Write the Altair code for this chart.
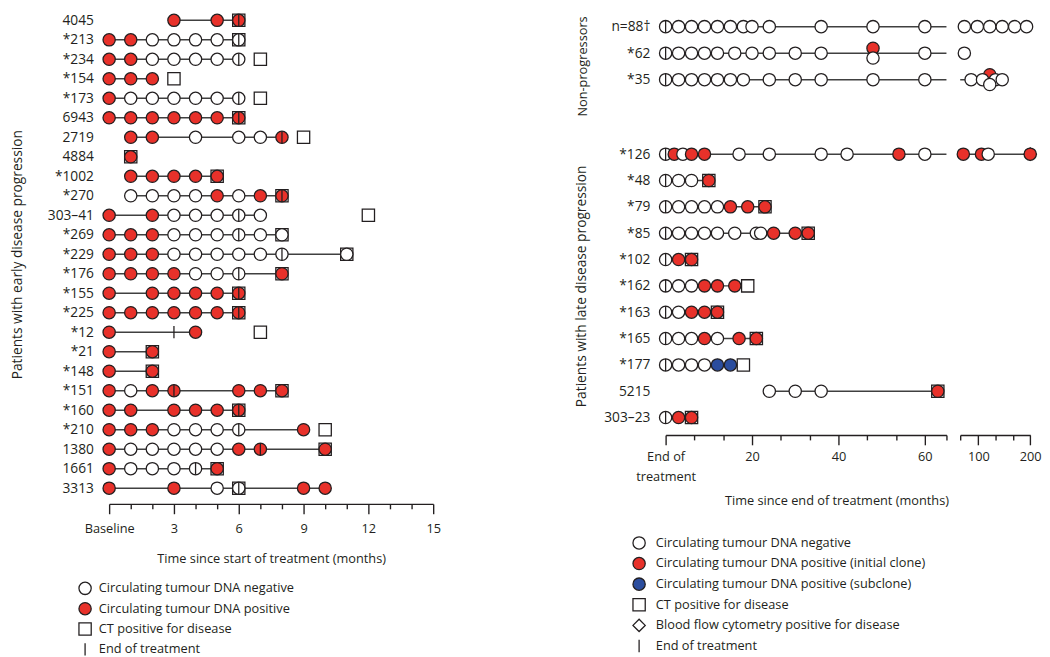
import altair as alt
import pandas as pd

FONT = "Open Sans"
INK = "#231f20"
LINE = "#404040"
RED = "#e8312a"
BLUE = "#2b4d9e"

# ---------------- Left panel: months since start of treatment ----------------
LEFT_PATIENTS = ["4045", "*213", "*234", "*154", "*173", "6943", "2719", "4884", "*1002", "*270",
                 "303\u201341", "*269", "*229", "*176", "*155", "*225", "*12", "*21", "*148", "*151",
                 "*160", "*210", "1380", "1661", "3313"]
LEFT_NEG = [[], [2, 3, 4, 5, 6], [2, 3, 4, 5, 6], [], [1, 2, 3, 4, 5, 6], [], [4, 6, 7], [], [], [1, 2, 3, 4, 6],
            [3, 4, 5, 6, 7], [3, 4, 5, 6, 7, 8], [3, 4, 5, 6, 7, 8, 11], [4, 5, 6], [], [], [], [], [], [1],
            [], [3, 4, 5, 6], [1, 2, 3, 4, 5], [1, 2, 3, 4], [5, 6]]
LEFT_POS = [[3, 5, 6], [0, 1], [0, 1], [0, 1, 2], [0], [0, 1, 2, 3, 4, 5, 6], [1, 2, 8], [1], [1, 2, 3, 4, 5], [5, 7, 8],
            [0, 2], [0, 1, 2], [0, 1, 2], [0, 1, 2, 3, 8], [0, 2, 3, 4, 5, 6], [0, 1, 2, 3, 4, 5, 6], [0, 4], [0, 2], [0, 2],
            [0, 2, 3, 6, 7, 8], [0, 1, 3, 4, 5, 6], [0, 1, 2, 9], [0, 6, 7, 10], [0, 5], [0, 3, 9, 10]]
LEFT_CT = [6, 6, 7, 3, 7, 6, 9, 1, 5, 8, 12, 8, 11, 8, 6, 6, 7, 2, 2, 8, 6, 10, 10, 5, 6]
LEFT_EOT = [6, 6, 6, None, 6, 6, 8, None, None, 8, 6, 6, 8, 6, 6, 6, 3, None, None, 3, 6, 6, 7, 4, 6]

# ---------------- Right panel: months since end of treatment ----------------
NP_PATIENTS = ["n=88\u2020", "*62", "*35"]
LATE_PATIENTS = ["*126", "*48", "*79", "*85", "*102", "*162", "*163", "*165", "*177", "5215", "303\u201323"]
RIGHT_PATIENTS = NP_PATIENTS + LATE_PATIENTS
RIGHT_NEG = [[0, 3, 6, 9, 12, 15, 18, 20, 24, 36, 48, 60, 73, 98, 122, 146, 170, 193],
             [0, 3, 6, 9, 12, 16, 20, 24, 30, 36, 60, 73],
             [0, 3, 6, 9, 12, 15, 18, 24, 30, 36, 48, 60, 86, 108, 133, 146],
             [0, 4, 17, 24, 36, 42, 60, 119],
             [0, 3, 6], [0, 3, 6, 9, 12], [0, 3, 6, 9, 12, 16, 21, 22], [0], [0, 3, 6], [0, 3],
             [0, 3, 6, 12], [0, 3, 6, 9], [24, 30, 36], [0]]
RIGHT_POS = [[], [], [], [2, 6, 9, 54, 71, 106, 200], [10], [15, 19, 23], [25, 30, 33], [3, 6], [9, 12, 16],
             [6, 9, 12], [9, 17, 21], [], [63], [3, 6]]
RIGHT_SUB = [[], [], [], [], [], [], [], [], [], [], [], [12, 15], [], []]
RIGHT_POS_UP = [[], [48], [122], [], [], [], [], [], [], [], [], [], [], []]
RIGHT_NEG_DOWN = [[], [48], [122], [], [], [], [], [], [], [], [], [], [], []]
RIGHT_CT = [None, None, None, None, 10, 23, 33, 6, 19, 12, 21, 18, 63, 6]
RIGHT_BFC = [None, None, None, 200, None, None, None, None, None, None, None, None, None, None]
RIGHT_EOT = [0, 0, 0, 0, 0, 0, 0, 0, 0, 0, 0, 0, None, 0]
BREAK = 65

KIND_FILL = {"neg": "white", "pos": RED, "sub": BLUE, "ct": "white", "bfc": "white", "eot": "transparent"}
KIND_SHAPE = {"neg": "circle", "pos": "circle", "sub": "circle", "ct": "square", "bfc": "diamond",
              "eot": "M0,-1L0,1"}
KIND_SIZE = {"neg": 156, "pos": 156, "sub": 156, "ct": 190, "bfc": 289, "eot": 289}
LEFT_KINDS = ["neg", "pos", "ct", "eot"]
LEFT_LABELS = ["Circulating tumour DNA negative", "Circulating tumour DNA positive",
               "CT positive for disease", "End of treatment"]
RIGHT_KINDS = ["neg", "pos", "sub", "ct", "bfc", "eot"]
RIGHT_LABELS = ["Circulating tumour DNA negative", "Circulating tumour DNA positive (initial clone)",
                "Circulating tumour DNA positive (subclone)", "CT positive for disease",
                "Blood flow cytometry positive for disease", "End of treatment"]


def build_points(patients, neg, pos, ct, eot, sub=None, bfc=None, up=None, down=None):
    n = len(patients)
    sub = sub or [[] for _ in range(n)]
    bfc = bfc or [None] * n
    up = up or [[] for _ in range(n)]
    down = down or [[] for _ in range(n)]
    rows = []
    for i, p in enumerate(patients):
        if ct[i] is not None:
            rows.append((p, ct[i], "ct", 0))
        if bfc[i] is not None:
            rows.append((p, bfc[i], "bfc", 0))
    for i, p in enumerate(patients):
        circ = [(t, "neg") for t in neg[i]] + [(t, "pos") for t in pos[i]] + [(t, "sub") for t in sub[i]]
        for t, k in sorted(circ):
            rows.append((p, t, k, 0))
        for t in up[i]:
            rows.append((p, t, "pos", -1))
        for t in down[i]:
            rows.append((p, t, "neg", 1))
    for i, p in enumerate(patients):
        if eot[i] is not None:
            rows.append((p, eot[i], "eot", 0))
    return pd.DataFrame(rows, columns=["patient", "t", "kind", "lift"])


def build_lines(df, cut=None):
    circ = df[df.kind.isin(["neg", "pos", "sub"])]
    rows = []
    for p, g in circ.groupby("patient", sort=False):
        if cut is None:
            rows.append((p, 1, g.t.min(), g.t.max()))
        else:
            s1, s2 = g[g.t <= cut], g[g.t > cut]
            if len(s1):
                rows.append((p, 1, s1.t.min(), cut if len(s2) else s1.t.max()))
            if len(s2):
                rows.append((p, 2, cut, s2.t.max()))
    return pd.DataFrame(rows, columns=["patient", "seg", "start", "end"])


left_pts = build_points(LEFT_PATIENTS, LEFT_NEG, LEFT_POS, LEFT_CT, LEFT_EOT)
left_lines = build_lines(left_pts)
right_pts = build_points(RIGHT_PATIENTS, RIGHT_NEG, RIGHT_POS, RIGHT_CT, RIGHT_EOT,
                         sub=RIGHT_SUB, bfc=RIGHT_BFC, up=RIGHT_POS_UP, down=RIGHT_NEG_DOWN)
right_pts["seg"] = (right_pts.t > BREAK).map({False: 1, True: 2})
right_lines = build_lines(right_pts, cut=BREAK)


def label_expr(kinds, labels):
    expr = "''"
    for k, lab in reversed(list(zip(kinds, labels))):
        expr = f"datum.value === '{k}' ? '{lab}' : ({expr})"
    return expr


def make_legend(kinds, labels, x, y, rowpad, loff):
    return alt.Legend(orient="none", legendX=x, legendY=y, title=None, direction="vertical",
                      labelExpr=label_expr(kinds, labels), symbolStrokeWidth=1.3,
                      labelFont=FONT, labelFontSize=13, labelColor=INK,
                      rowPadding=rowpad, labelLimit=600, labelOffset=loff, padding=0)


def panel(pts, lines, patients, xdom, width, height, ypad, yaxis, xaxis, kinds, legend):
    xs = alt.Scale(domain=xdom, nice=False, zero=False)
    ys = alt.Scale(type="point", domain=patients, padding=ypad)
    yenc = alt.Y("patient:N", scale=ys, axis=yaxis)
    fill = alt.Fill("kind:N", scale=alt.Scale(domain=kinds, range=[KIND_FILL[k] for k in kinds]), legend=legend)
    shape = alt.Shape("kind:N", scale=alt.Scale(domain=kinds, range=[KIND_SHAPE[k] for k in kinds]), legend=legend)
    size = alt.Size("kind:N", scale=alt.Scale(domain=kinds, range=[KIND_SIZE[k] for k in kinds]), legend=legend)
    stroke = alt.Stroke("kind:N", scale=alt.Scale(domain=kinds, range=[INK] * len(kinds)), legend=legend)
    rules = alt.Chart(lines).mark_rule(color=LINE, strokeWidth=1.5).encode(
        x=alt.X("start:Q", scale=xs, axis=xaxis), x2="end:Q", y=yenc)
    base = alt.Chart(pts).encode(x=alt.X("t:Q", scale=xs, axis=xaxis), y=yenc, fill=fill, shape=shape,
                                 size=size, stroke=stroke)
    pt = dict(filled=True, opacity=1, strokeWidth=1.3)
    up = base.transform_filter("datum.lift < 0").mark_point(yOffset=-5, **pt)
    mid = base.transform_filter("datum.lift === 0").mark_point(**pt)
    down = base.transform_filter("datum.lift > 0").mark_point(yOffset=5, **pt)
    return alt.layer(rules, up, mid, down).properties(width=width, height=height)


def yaxis(title, tpad, tsize=14, **kw):
    return alt.Axis(title=title, domain=False, ticks=False, labelPadding=16, labelFontSize=14,
                    titleFontSize=tsize, titlePadding=tpad, titleLimit=400, labelFont=FONT, titleFont=FONT,
                    labelColor=INK, titleColor=INK, titleFontWeight="normal", **kw)


def xaxis(values, major_test, label_expr_s, title, offset, **kw):
    return alt.Axis(values=values,
                    tickSize={"condition": {"test": major_test, "value": 10}, "value": 5},
                    labelExpr=label_expr_s, title=title, offset=offset, domainColor=INK, domainWidth=1.4,
                    tickColor=INK, tickWidth=1.4, labelFont=FONT, labelFontSize=13, labelColor=INK,
                    titleFont=FONT, titleFontSize=13, titleColor=INK, titleFontWeight="normal",
                    labelOverlap=False, labelFlush=False, grid=False, **kw)


# left panel
left_x = xaxis(list(range(16)), "datum.value % 3 === 0",
               "datum.value === 0 ? 'Baseline' : (datum.value % 3 === 0 ? datum.label : '')",
               "Time since start of treatment (months)", 9.5, labelPadding=9.5, titlePadding=17)
left = panel(left_pts, left_lines, LEFT_PATIENTS, [0, 15], 330, 489.5, 0.33,
             yaxis("Patients with early disease progression", 23), left_x, LEFT_KINDS,
             make_legend(LEFT_KINDS, LEFT_LABELS, -31.5, 578, 2.7, 7))

# right panels
R1_TICKS = [round(i * 20 / 3, 4) for i in range(10)] + [BREAK]
R2_TICKS = [BREAK, 100, 133.3333, 166.6667, 200]
r1_x = xaxis(R1_TICKS, "datum.value % 20 === 0",
             "datum.value === 0 ? ['End of', 'treatment'] : (datum.value % 20 === 0 ? datum.label : '')",
             "Time since end of treatment (months)", 4.3, titleX=174, labelPadding=6, titlePadding=12,
             labelLineHeight=20)
r2_x = xaxis(R2_TICKS, "datum.value === 100 || datum.value === 200",
             "datum.value === 100 || datum.value === 200 ? datum.label : ''", None, 4.3, labelPadding=6)

np_pts = right_pts[right_pts.patient.isin(NP_PATIENTS)]
late_pts = right_pts[right_pts.patient.isin(LATE_PATIENTS)]
np_lines = right_lines[right_lines.patient.isin(NP_PATIENTS)]
late_lines = right_lines[right_lines.patient.isin(LATE_PATIENTS)]

W1, W2 = 286, 71.3
NP_H, LATE_H = 79.9, 295.1
np1 = panel(np_pts[np_pts.seg == 1], np_lines[np_lines.seg == 1], NP_PATIENTS, [0, BREAK], W1, NP_H, 0.48,
            yaxis("Non-progressors", 22, tsize=13, titleY=53), None, RIGHT_KINDS, None)
np2 = panel(np_pts[np_pts.seg == 2], np_lines[np_lines.seg == 2], NP_PATIENTS, [BREAK, 200], W2, NP_H, 0.48,
            None, None, RIGHT_KINDS, None)
late1 = panel(late_pts[late_pts.seg == 1], late_lines[late_lines.seg == 1], LATE_PATIENTS, [0, BREAK], W1, LATE_H,
              0.5, yaxis("Patients with late disease progression", 16), r1_x, RIGHT_KINDS,
              make_legend(RIGHT_KINDS, RIGHT_LABELS, -34, 402.3, 3.0, 10))
late2 = panel(late_pts[late_pts.seg == 2], late_lines[late_lines.seg == 2], LATE_PATIENTS, [BREAK, 200], W2, LATE_H,
              0.5, None, r2_x, RIGHT_KINDS, None)

ind = dict(fill="independent", shape="independent", size="independent", stroke="independent",
           x="independent", y="independent")
col1 = alt.vconcat(np1, late1, spacing=49.4, bounds="flush").resolve_scale(**ind)
col2 = alt.vconcat(np2, late2, spacing=49.4, bounds="flush").resolve_scale(**ind)
right = alt.hconcat(col1, col2, spacing=W1 + 14, bounds="flush").resolve_scale(**ind)

chart = (alt.hconcat(left, right, spacing=236.7, bounds="flush")
         .resolve_scale(**ind)
         .properties(padding={"left": 2, "top": -3, "right": 0, "bottom": 0})
         .configure_view(strokeWidth=0))

chart.save("out.html", embed_options={"renderer": "svg", "actions": False})
